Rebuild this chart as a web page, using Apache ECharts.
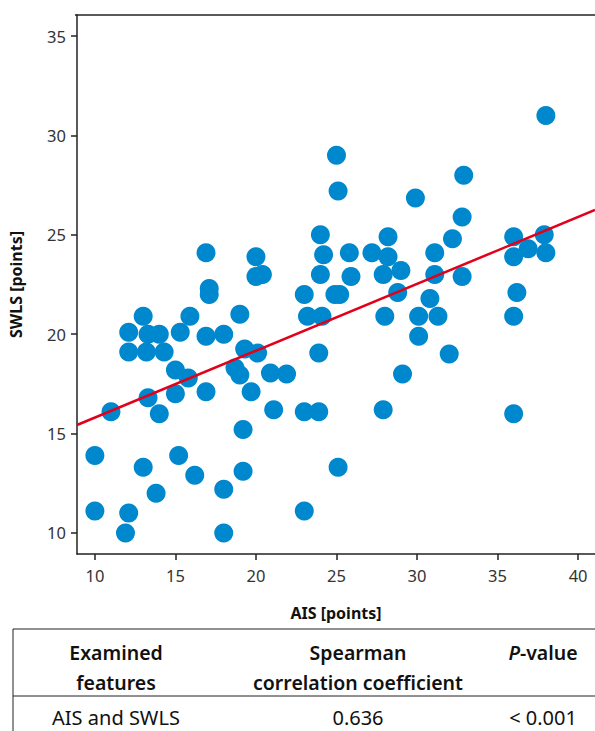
<!DOCTYPE html>
<html lang="en">
<head>
    <meta charset="UTF-8" />
    <title>AIS vs SWLS</title>
    <script src="https://cdn.jsdelivr.net/npm/echarts@6/dist/echarts.min.js"></script>
    <style>
        html, body { margin: 0; padding: 0; background: #fff; }
    </style>
</head>
<body>
    <div id="chart" style="width: 595px; height: 731px"></div>
    <script>
        // AIS (x) and SWLS (y)
        var ais = [25, 25.1, 24, 24.2, 24, 23, 23.2, 24.1, 24.9, 25.2,
            25.8, 25.9, 27.2, 28.2, 28.2, 27.9, 29, 28.8, 28, 29.9,
            31.1, 31.1, 30.8, 30.1, 31.3, 30.1, 32.2, 32.8, 32.9, 32.8,
            36, 36, 36.9, 37.9, 38, 38, 36.2, 36, 36, 32,
            29.1, 27.9, 25.1, 23.9, 23, 23, 23.9, 10, 10, 11.9,
            12.1, 13.8, 13, 15.2, 16.2, 18, 18, 19.2, 19.2, 11,
            13.3, 14, 15, 15, 15.8, 16.9, 12.1, 13.2, 14.3, 12.1,
            13.3, 14, 13, 15.3, 15.9, 16.9, 18, 19, 19.3, 20.1,
            18.7, 19, 19.7, 20.9, 21.9, 21.1, 16.9, 17.1, 17.1, 20,
            20, 20.4];
        var swls = [29, 27.2, 25, 24, 23, 22, 20.9, 20.9, 22, 22,
            24.1, 22.9, 24.1, 24.9, 23.9, 23, 23.2, 22.1, 20.9, 26.85,
            24.1, 23, 21.8, 20.9, 20.9, 19.9, 24.8, 25.9, 28, 22.9,
            24.9, 23.9, 24.3, 25, 24.1, 31, 22.1, 20.9, 16, 19,
            18, 16.2, 13.3, 16.1, 16.1, 11.1, 19.05, 13.9, 11.1, 10,
            11, 12, 13.3, 13.9, 12.9, 12.2, 10, 13.1, 15.2, 16.1,
            16.8, 16, 17, 18.2, 17.8, 17.1, 19.1, 19.1, 19.1, 20.1,
            20, 20, 20.9, 20.1, 20.9, 19.9, 20, 21, 19.25, 19.05,
            18.3, 17.95, 17.1, 18.05, 18, 16.2, 24.1, 22.3, 22.0, 23.9,
            22.9, 23];

        // fitted line end points (at the plot edges)
        var fitX = [8.89, 41.05];
        var fitY = [15.43, 26.25];

        var xTicks = [10, 15, 20, 25, 30, 35, 40];
        var yTicks = [10, 15, 20, 25, 30, 35];

        var tableHead = ['Examined\nfeatures', 'Spearman\ncorrelation coefficient', '{i|P}-value'];
        var tableRow = ['AIS and SWLS', '0.636', '< 0.001'];

        var points = [];
        for (var i = 0; i < ais.length; i++) {
            points.push([ais[i], swls[i]]);
        }
        var fitLine = [[fitX[0], fitY[0]], [fitX[1], fitY[1]]];

        var font = '"Noto Sans", "Open Sans", sans-serif';
        var ink = '#222';

        var colX = [116, 358, 543];
        var tableGraphics = [
            { type: 'line', shape: { x1: 75, y1: 15, x2: 595, y2: 15 }, style: { stroke: ink, lineWidth: 1.5 } },
            { type: 'line', shape: { x1: 13, y1: 629, x2: 595, y2: 629 }, style: { stroke: ink, lineWidth: 1 } },
            { type: 'line', shape: { x1: 13, y1: 696, x2: 595, y2: 696 }, style: { stroke: ink, lineWidth: 1 } },
            { type: 'line', shape: { x1: 13, y1: 629, x2: 13, y2: 731 }, style: { stroke: ink, lineWidth: 1 } }
        ];
        for (var c = 0; c < 3; c++) {
            tableGraphics.push({
                type: 'text',
                x: colX[c],
                y: c === 2 ? 652 : 667,
                style: {
                    text: tableHead[c],
                    fill: '#111',
                    font: '600 19.5px ' + font,
                    lineHeight: 30,
                    align: 'center',
                    verticalAlign: 'middle',
                    rich: { i: { fontStyle: 'italic', fontWeight: 600, fontSize: 19.5, fontFamily: font, fill: '#111' } }
                }
            });
            tableGraphics.push({
                type: 'text',
                x: colX[c],
                y: 717,
                style: {
                    text: tableRow[c],
                    fill: '#111',
                    font: '20px ' + font,
                    align: 'center',
                    verticalAlign: 'middle'
                }
            });
        }

        var chart = echarts.init(document.getElementById('chart'), null, { renderer: 'svg' });
        chart.setOption({
            backgroundColor: '#fff',
            animation: false,
            grid: { left: 75, top: 15, right: 0, bottom: 177 },
            xAxis: {
                type: 'value',
                min: 8.89,
                max: 41.05,
                name: 'AIS [points]',
                nameLocation: 'middle',
                nameGap: 51,
                nameTextStyle: { fontFamily: font, fontWeight: 'bold', fontSize: 16, color: '#111' },
                splitLine: { show: false },
                axisLine: { lineStyle: { color: ink, width: 1.5 } },
                axisTick: { show: true, length: 6, customValues: xTicks, lineStyle: { color: ink, width: 1.5 } },
                axisLabel: { customValues: xTicks, margin: 13, fontFamily: font, fontSize: 16.5, color: '#333' }
            },
            yAxis: {
                type: 'value',
                min: 8.94,
                max: 36.06,
                name: 'SWLS [points]',
                nameLocation: 'middle',
                nameGap: 53,
                nameRotate: 90,
                nameTextStyle: { fontFamily: font, fontWeight: 'bold', fontSize: 16, color: '#111' },
                splitLine: { show: false },
                axisLine: { show: true, lineStyle: { color: ink, width: 1.5 } },
                axisTick: { show: true, length: 6, customValues: yTicks, lineStyle: { color: ink, width: 1.5 } },
                axisLabel: { customValues: yTicks, margin: 11, fontFamily: font, fontSize: 16.5, color: '#333' }
            },
            series: [
                {
                    type: 'scatter',
                    data: points,
                    symbolSize: 19,
                    itemStyle: { color: '#0088ce', opacity: 1 }
                },
                {
                    type: 'line',
                    data: fitLine,
                    symbol: 'none',
                    z: 5,
                    lineStyle: { color: '#e2001a', width: 2.5 }
                }
            ],
            graphic: tableGraphics
        });
    </script>
</body>
</html>
